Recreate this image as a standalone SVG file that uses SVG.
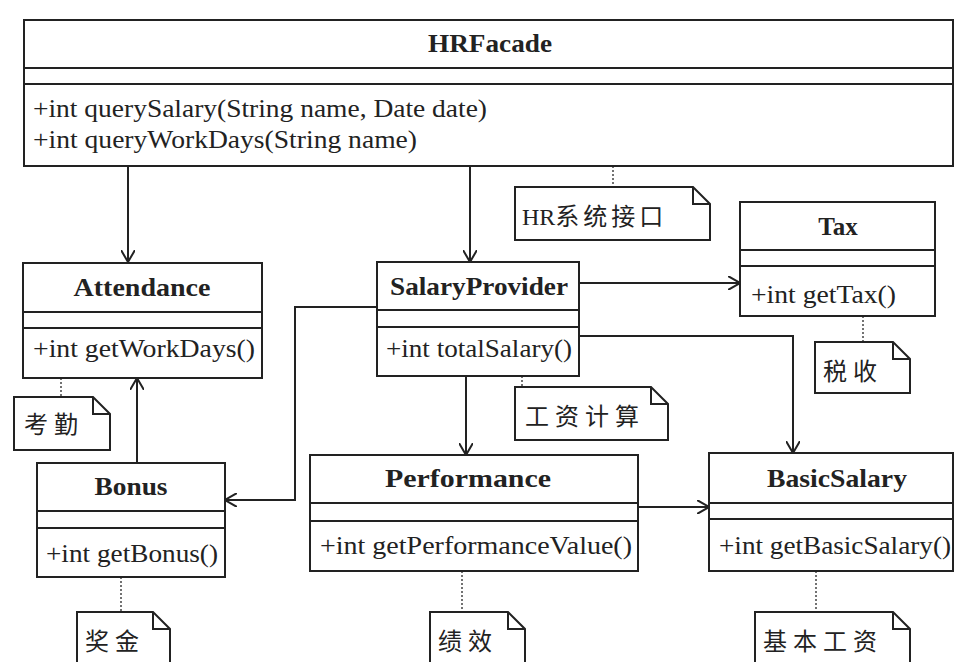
<svg xmlns="http://www.w3.org/2000/svg" width="956" height="662" viewBox="0 0 956 662">
<style>
.box{fill:#fff;stroke:#222;stroke-width:2}
.sep{stroke:#222;stroke-width:2}
.title{font-family:"Liberation Serif",serif;font-weight:bold;font-size:25px;fill:#222;text-anchor:middle}
.m{font-family:"Liberation Serif",serif;font-size:26px;fill:#222}
.note{fill:#fff;stroke:#222;stroke-width:2}
.nt{font-family:"Liberation Serif","Noto Sans CJK SC",serif;font-size:24px;fill:#222;letter-spacing:6px}
.dot{stroke:#444;stroke-width:1.5;stroke-dasharray:2 2;fill:none}
.c{stroke:#222;stroke-width:2;fill:none}
</style>
<defs>
<marker id="arr" viewBox="0 0 12 14" refX="12" refY="7" markerWidth="12" markerHeight="14" markerUnits="userSpaceOnUse" orient="auto">
<path d="M0,0 L12,7 L0,14" fill="none" stroke="#222" stroke-width="2"/>
</marker>
</defs>
<rect width="956" height="662" fill="#fff"/>

<g id="connectors">
<path class="c" d="M128,166 V262" marker-end="url(#arr)"/>
<path class="c" d="M470,166 V262" marker-end="url(#arr)"/>
<path class="c" d="M579,283 H740" marker-end="url(#arr)"/>
<path class="c" d="M579,336 H793 V453" marker-end="url(#arr)"/>
<path class="c" d="M377,307 H295 V500 H225" marker-end="url(#arr)"/>
<path class="c" d="M466,376 V455" marker-end="url(#arr)"/>
<path class="c" d="M137,463 V378" marker-end="url(#arr)"/>
<path class="c" d="M638,507 H709" marker-end="url(#arr)"/>
<path class="dot" d="M613,166 V187"/>
<path class="dot" d="M863,316 V342"/>
<path class="dot" d="M522,376 V387"/>
<path class="dot" d="M61,378 V397"/>
<path class="dot" d="M121,577 V612"/>
<path class="dot" d="M462,571 V612"/>
<path class="dot" d="M816,571 V612"/>
</g>

<g id="HRFacade">
<rect class="box" x="24" y="20" width="929" height="146"/>
<line class="sep" x1="24" y1="68" x2="953" y2="68"/>
<line class="sep" x1="24" y1="84" x2="953" y2="84"/>
<text class="title" x="490" y="52" textLength="124" lengthAdjust="spacingAndGlyphs">HRFacade</text>
<text class="m" x="33" y="117" textLength="454" lengthAdjust="spacingAndGlyphs">+int querySalary(String name, Date date)</text>
<text class="m" x="33" y="148" textLength="384" lengthAdjust="spacingAndGlyphs">+int queryWorkDays(String name)</text>
</g>

<g id="Attendance">
<rect class="box" x="23" y="263" width="239" height="115"/>
<line class="sep" x1="23" y1="312" x2="262" y2="312"/>
<line class="sep" x1="23" y1="328" x2="262" y2="328"/>
<text class="title" x="142" y="296" textLength="137" lengthAdjust="spacingAndGlyphs">Attendance</text>
<text class="m" x="33" y="357" textLength="222" lengthAdjust="spacingAndGlyphs">+int getWorkDays()</text>
</g>

<g id="SalaryProvider">
<rect class="box" x="377" y="262" width="202" height="114"/>
<line class="sep" x1="377" y1="310" x2="579" y2="310"/>
<line class="sep" x1="377" y1="327" x2="579" y2="327"/>
<text class="title" x="479" y="295" textLength="178" lengthAdjust="spacingAndGlyphs">SalaryProvider</text>
<text class="m" x="386" y="357" textLength="186" lengthAdjust="spacingAndGlyphs">+int totalSalary()</text>
</g>

<g id="Tax">
<rect class="box" x="740" y="202" width="195" height="114"/>
<line class="sep" x1="740" y1="250" x2="935" y2="250"/>
<line class="sep" x1="740" y1="266" x2="935" y2="266"/>
<text class="title" x="838" y="235">Tax</text>
<text class="m" x="751" y="303" textLength="145" lengthAdjust="spacingAndGlyphs">+int getTax()</text>
</g>

<g id="Bonus">
<rect class="box" x="37" y="463" width="188" height="114"/>
<line class="sep" x1="37" y1="511" x2="225" y2="511"/>
<line class="sep" x1="37" y1="528" x2="225" y2="528"/>
<text class="title" x="131" y="495" textLength="73" lengthAdjust="spacingAndGlyphs">Bonus</text>
<text class="m" x="46" y="562" textLength="172" lengthAdjust="spacingAndGlyphs">+int getBonus()</text>
</g>

<g id="Performance">
<rect class="box" x="310" y="455" width="328" height="116"/>
<line class="sep" x1="310" y1="503" x2="638" y2="503"/>
<line class="sep" x1="310" y1="521" x2="638" y2="521"/>
<text class="title" x="468" y="487" textLength="166" lengthAdjust="spacingAndGlyphs">Performance</text>
<text class="m" x="320" y="554" textLength="312" lengthAdjust="spacingAndGlyphs">+int getPerformanceValue()</text>
</g>

<g id="BasicSalary">
<rect class="box" x="709" y="453" width="244" height="118"/>
<line class="sep" x1="709" y1="503" x2="953" y2="503"/>
<line class="sep" x1="709" y1="519" x2="953" y2="519"/>
<text class="title" x="837" y="487" textLength="140" lengthAdjust="spacingAndGlyphs">BasicSalary</text>
<text class="m" x="719" y="554" textLength="232" lengthAdjust="spacingAndGlyphs">+int getBasicSalary()</text>
</g>

<g id="note-hr">
<path class="note" d="M515,187 H693 L710,204 V240 H515 Z M693,187 V204 H710"/>
<text class="nt" x="522" y="225"><tspan letter-spacing="0">HR</tspan><tspan letter-spacing="4">系统接口</tspan></text>
</g>
<g id="note-tax">
<path class="note" d="M815,342 H893 L910,359 V393 H815 Z M893,342 V359 H910"/>
<text class="nt" x="823" y="380">税收</text>
</g>
<g id="note-salary">
<path class="note" d="M515,387 H651 L668,404 V440 H515 Z M651,387 V404 H668"/>
<text class="nt" x="525" y="425">工资计算</text>
</g>
<g id="note-attendance">
<path class="note" d="M14,397 H93 L110,414 V450 H14 Z M93,397 V414 H110"/>
<text class="nt" x="24" y="433">考勤</text>
</g>
<g id="note-bonus">
<path class="note" d="M77,612 H153 L170,629 V668 H77 Z M153,612 V629 H170"/>
<text class="nt" x="85" y="650">奖金</text>
</g>
<g id="note-performance">
<path class="note" d="M430,612 H508 L525,629 V668 H430 Z M508,612 V629 H525"/>
<text class="nt" x="438" y="650">绩效</text>
</g>
<g id="note-basic">
<path class="note" d="M755,612 H893 L910,629 V668 H755 Z M893,612 V629 H910"/>
<text class="nt" x="763" y="650">基本工资</text>
</g>
</svg>
